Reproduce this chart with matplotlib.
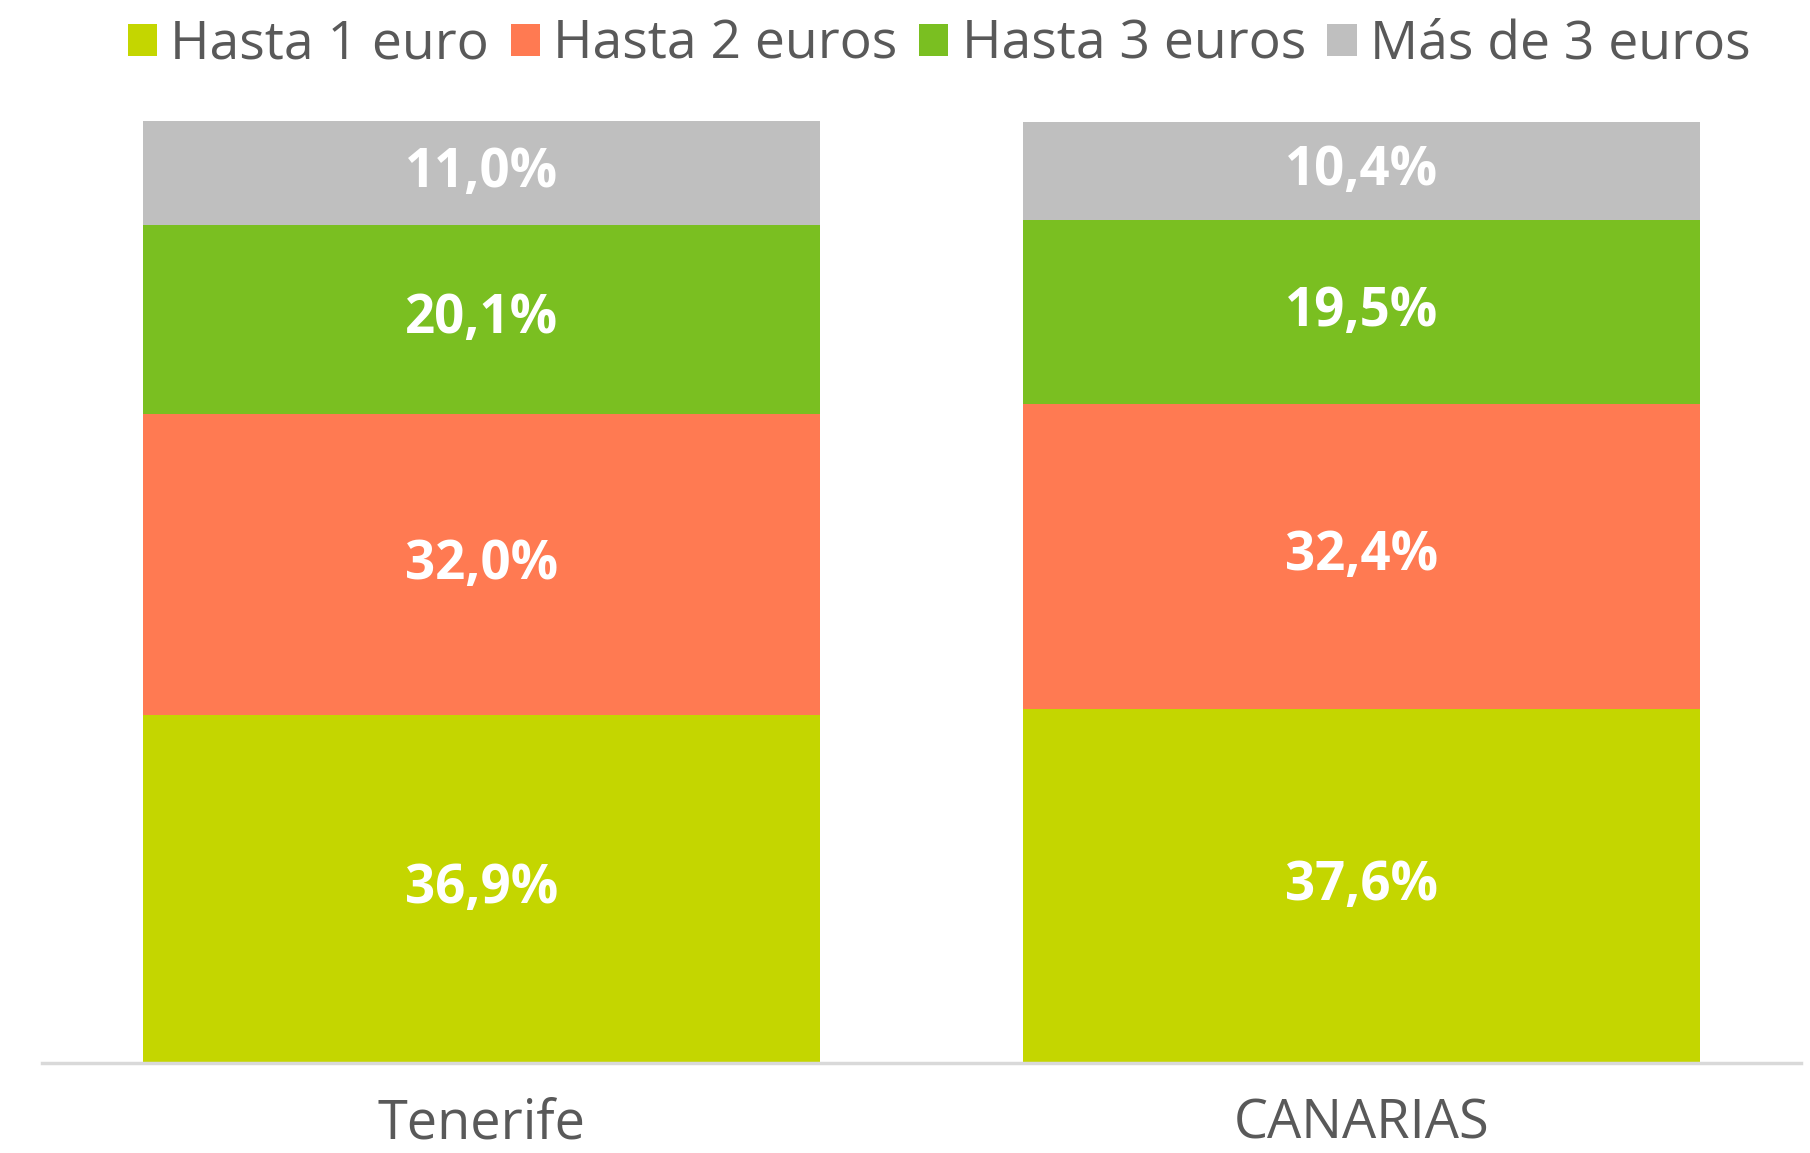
import matplotlib
matplotlib.use("Agg")
import matplotlib.pyplot as plt

# data
regions = ["Tenerife", "CANARIAS"]
series = ["Hasta 1 euro", "Hasta 2 euros", "Hasta 3 euros", "Más de 3 euros"]
hasta1 = [36.9, 37.6]
hasta2 = [32.0, 32.4]
hasta3 = [20.1, 19.5]
mas3 = [11.0, 10.4]
values = [hasta1, hasta2, hasta3, mas3]
colors = ["#C4D600", "#FF7A52", "#7ABF21", "#BFBFBF"]

plt.rcParams["font.family"] = ["Open Sans", "DejaVu Sans"]

fig = plt.figure(figsize=(18.1, 11.53), dpi=100)
ax = fig.add_axes([0.0232, 0.078, 0.972, 0.817])

x = range(len(regions))
bottom = [0.0, 0.0]
for name, vals, col in zip(series, values, colors):
    ax.bar(x, vals, width=0.77, bottom=bottom, color=col, label=name)
    for xi, v, b0 in zip(x, vals, bottom):
        ax.text(xi, b0 + v / 2, f"{v:.1f}%".replace(".", ","), ha="center", va="center",
                color="white", fontsize=38, fontweight="bold")
    bottom = [b0 + v for b0, v in zip(bottom, vals)]

ax.set_xlim(-0.5, 1.5)
ax.set_ylim(0, 100)
ax.set_xticks(list(x))
ax.set_xticklabels(regions, fontsize=39, color="#595959")
ax.tick_params(axis="x", length=0, pad=24)
ax.set_yticks([])
for s in ["top", "right", "left"]:
    ax.spines[s].set_visible(False)
ax.spines["bottom"].set_color("#D9D9D9")
ax.spines["bottom"].set_linewidth(2.5)

ax.legend(loc="upper center", bbox_to_anchor=(0.51, 1.16), ncol=4, frameon=False,
          fontsize=38.5, handlelength=0.55, handleheight=0.55, handletextpad=0.25,
          columnspacing=0.4, labelcolor="#595959")

fig.savefig("out.png", dpi=100)
